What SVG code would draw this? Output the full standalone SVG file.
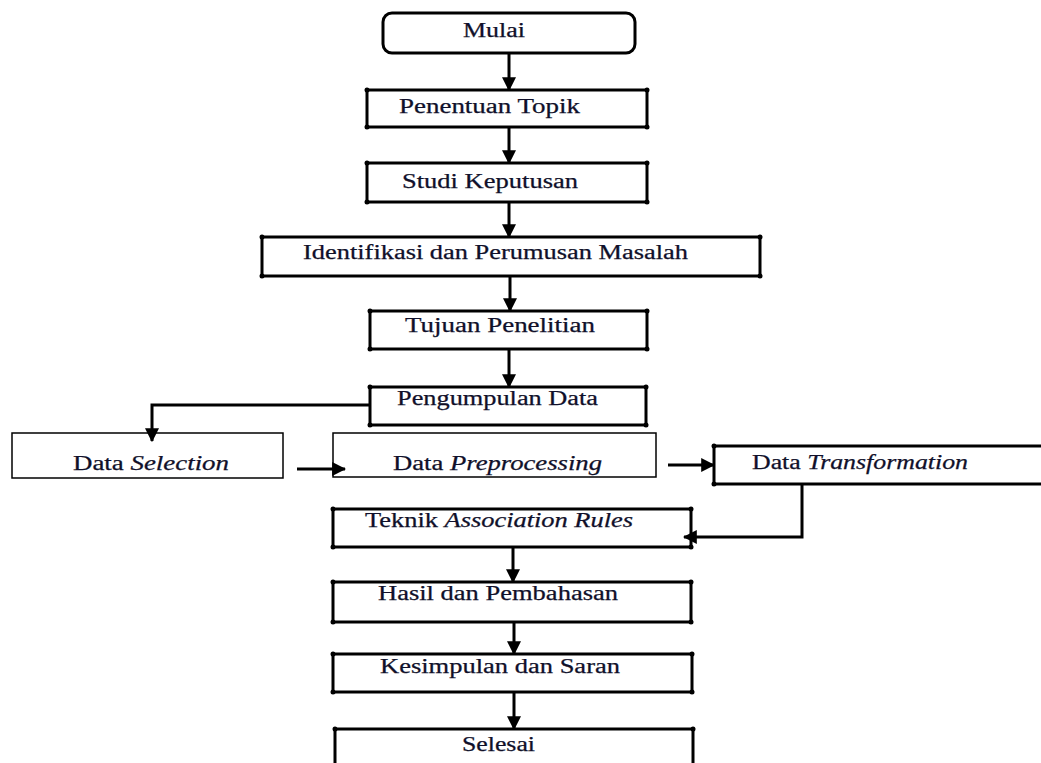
<svg xmlns="http://www.w3.org/2000/svg" width="1041" height="763" viewBox="0 0 1041 763">
<style>
.box{fill:#fff;stroke:#000;stroke-width:3}
.thin{fill:#fff;stroke:#000;stroke-width:1.5}
.dot{fill:#000}
text{font-family:"Liberation Serif","Times New Roman",serif;font-size:20px;fill:#10102a;stroke:#10102a;stroke-width:0.25}
.it{font-style:italic}
.conn{fill:none;stroke:#000;stroke-width:3}
</style>
<defs>
<marker id="ah" markerUnits="userSpaceOnUse" markerWidth="14" markerHeight="14" viewBox="0 0 12 12" refX="11" refY="6" orient="auto">
<path d="M0,0 L12,6 L0,12 Z" fill="#000"/>
</marker>
</defs>
<rect width="1041" height="763" fill="#fff"/>
<g id="mulai">
<rect class="box" x="383" y="13" width="252" height="40" rx="9"/>
<text x="463" y="37" textLength="62" lengthAdjust="spacingAndGlyphs">Mulai</text>
</g>
<g id="penentuan">
<rect class="box" x="367" y="90" width="280" height="37"/>
<circle class="dot" cx="367" cy="90" r="2.5"/><circle class="dot" cx="647" cy="90" r="2.5"/><circle class="dot" cx="367" cy="127" r="2.5"/><circle class="dot" cx="647" cy="127" r="2.5"/>
<text x="399" y="113" textLength="181" lengthAdjust="spacingAndGlyphs">Penentuan Topik</text>
</g>
<g id="studi">
<rect class="box" x="367" y="163" width="280" height="39"/>
<circle class="dot" cx="367" cy="163" r="2.5"/><circle class="dot" cx="647" cy="163" r="2.5"/><circle class="dot" cx="367" cy="202" r="2.5"/><circle class="dot" cx="647" cy="202" r="2.5"/>
<text x="402" y="188" textLength="176" lengthAdjust="spacingAndGlyphs">Studi Keputusan</text>
</g>
<g id="identifikasi">
<rect class="box" x="262" y="237" width="498" height="39"/>
<circle class="dot" cx="262" cy="237" r="2.5"/><circle class="dot" cx="760" cy="237" r="2.5"/><circle class="dot" cx="262" cy="276" r="2.5"/><circle class="dot" cx="760" cy="276" r="2.5"/>
<text x="303" y="259" textLength="385" lengthAdjust="spacingAndGlyphs">Identifikasi dan Perumusan Masalah</text>
</g>
<g id="tujuan">
<rect class="box" x="370" y="311" width="277" height="38"/>
<circle class="dot" cx="370" cy="311" r="2.5"/><circle class="dot" cx="647" cy="311" r="2.5"/><circle class="dot" cx="370" cy="349" r="2.5"/><circle class="dot" cx="647" cy="349" r="2.5"/>
<text x="405" y="332" textLength="190" lengthAdjust="spacingAndGlyphs">Tujuan Penelitian</text>
</g>
<g id="pengumpulan">
<rect class="box" x="370" y="387" width="276" height="38"/>
<circle class="dot" cx="370" cy="387" r="2.5"/><circle class="dot" cx="646" cy="387" r="2.5"/><circle class="dot" cx="370" cy="425" r="2.5"/><circle class="dot" cx="646" cy="425" r="2.5"/>
<text x="397" y="405" textLength="201" lengthAdjust="spacingAndGlyphs">Pengumpulan Data</text>
</g>
<g id="selection">
<rect class="thin" x="12" y="433" width="271" height="45"/>
<text x="73" y="470" textLength="156" lengthAdjust="spacingAndGlyphs">Data <tspan class="it">Selection</tspan></text>
</g>
<g id="preprocessing">
<rect class="thin" x="333" y="433" width="323" height="44"/>
<text x="393" y="470" textLength="209" lengthAdjust="spacingAndGlyphs">Data <tspan class="it">Preprocessing</tspan></text>
</g>
<g id="transformation">
<rect class="box" x="714" y="446" width="340" height="38"/>
<circle class="dot" cx="714" cy="446" r="2.5"/><circle class="dot" cx="714" cy="484" r="2.5"/>
<text x="752" y="469" textLength="216" lengthAdjust="spacingAndGlyphs">Data <tspan class="it">Transformation</tspan></text>
</g>
<g id="teknik">
<rect class="box" x="333" y="509" width="358" height="38"/>
<circle class="dot" cx="333" cy="509" r="2.5"/><circle class="dot" cx="691" cy="509" r="2.5"/><circle class="dot" cx="333" cy="547" r="2.5"/><circle class="dot" cx="691" cy="547" r="2.5"/>
<text x="365" y="527" textLength="268" lengthAdjust="spacingAndGlyphs">Teknik <tspan class="it">Association Rules</tspan></text>
</g>
<g id="hasil">
<rect class="box" x="333" y="582" width="358" height="40"/>
<circle class="dot" cx="333" cy="582" r="2.5"/><circle class="dot" cx="691" cy="582" r="2.5"/><circle class="dot" cx="333" cy="622" r="2.5"/><circle class="dot" cx="691" cy="622" r="2.5"/>
<text x="378" y="600" textLength="240" lengthAdjust="spacingAndGlyphs">Hasil dan Pembahasan</text>
</g>
<g id="kesimpulan">
<rect class="box" x="333" y="654" width="359" height="38"/>
<circle class="dot" cx="333" cy="654" r="2.5"/><circle class="dot" cx="692" cy="654" r="2.5"/><circle class="dot" cx="333" cy="692" r="2.5"/><circle class="dot" cx="692" cy="692" r="2.5"/>
<text x="380" y="673" textLength="240" lengthAdjust="spacingAndGlyphs">Kesimpulan dan Saran</text>
</g>
<g id="selesai">
<rect class="box" x="335" y="729" width="358" height="50"/>
<circle class="dot" cx="335" cy="729" r="2.5"/><circle class="dot" cx="693" cy="729" r="2.5"/>
<text x="462" y="751" textLength="73" lengthAdjust="spacingAndGlyphs">Selesai</text>
</g>
<g id="connectors">
<line class="conn" x1="509" y1="54" x2="509" y2="90" marker-end="url(#ah)"/>
<line class="conn" x1="509" y1="128" x2="509" y2="163" marker-end="url(#ah)"/>
<line class="conn" x1="509" y1="203" x2="509" y2="237" marker-end="url(#ah)"/>
<line class="conn" x1="510" y1="277" x2="510" y2="311" marker-end="url(#ah)"/>
<line class="conn" x1="509" y1="350" x2="509" y2="387" marker-end="url(#ah)"/>
<polyline class="conn" points="369,405 152,405 152,441" marker-end="url(#ah)"/>
<line class="conn" x1="297" y1="469" x2="345" y2="469" marker-end="url(#ah)"/>
<line class="conn" x1="668" y1="465" x2="714" y2="465" marker-end="url(#ah)"/>
<polyline class="conn" points="802,485 802,537 684,537" marker-end="url(#ah)"/>
<line class="conn" x1="513" y1="548" x2="513" y2="582" marker-end="url(#ah)"/>
<line class="conn" x1="514" y1="623" x2="514" y2="654" marker-end="url(#ah)"/>
<line class="conn" x1="514" y1="693" x2="514" y2="729" marker-end="url(#ah)"/>
</g>
</svg>
